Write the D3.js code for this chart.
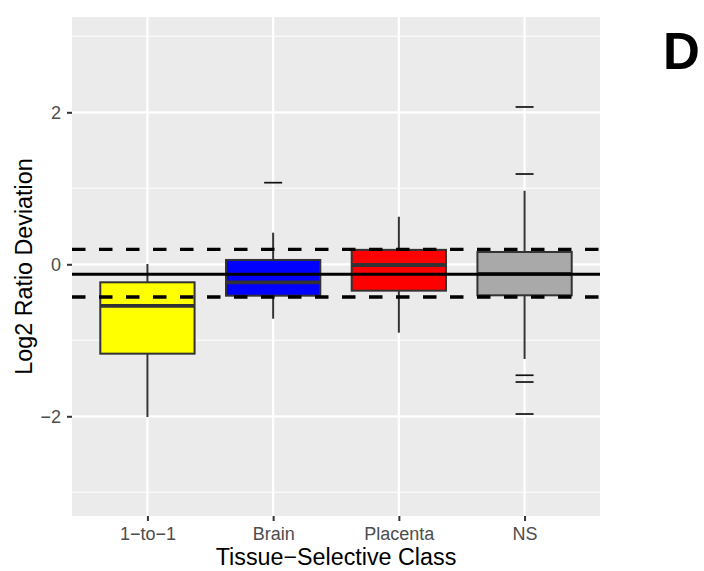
<!DOCTYPE html>
<html>
<head>
<meta charset="utf-8">
<script src="https://cdn.jsdelivr.net/npm/d3@7"></script>
<style>
  html, body { margin: 0; padding: 0; background: #fff; }
  svg { display: block; font-family: "Liberation Sans", Arial, Helvetica, sans-serif; }
</style>
</head>
<body>
<svg id="chart" width="704" height="571"></svg>
<script>
// Tissue-selective classes and their box-plot summaries (log2 ratio deviation)
const categories = ["1\u2212to\u22121", "Brain", "Placenta", "NS"];
const fills = ["#FFFF00", "#0000FF", "#FF0000", "#A9A9A9"];
const whiskerLow = [-2.01, -0.716, -0.90, -1.246];
const q1 = [-1.176, -0.413, -0.347, -0.408];
const median = [-0.546, -0.237, -0.009, -0.125];
const q3 = [-0.237, 0.057, 0.19, 0.162];
const whiskerHigh = [0.004, 0.416, 0.626, 0.968];
const outliers = [[], [1.074], [], [2.07, 1.188, -1.46, -1.549, -1.97]];

// Reference lines: overall median (solid) and band limits (dashed)
const refLine = -0.13;
const bandLines = [0.197, -0.43];

const yMajor = [-2, 0, 2];
const yMinor = [-3, -1, 1, 3];
const yDomain = [-3.312, 3.254];

const panel = { left: 72, right: 600, top: 17, bottom: 516 };
const svg = d3.select("#chart");

const x = d3.scalePoint().domain(categories).range([panel.left, panel.right]).padding(0.6);
const y = d3.scaleLinear().domain(yDomain).range([panel.bottom, panel.top]);
const boxW = x.step() * 0.75;

// panel background
svg.append("rect")
  .attr("x", panel.left).attr("y", panel.top)
  .attr("width", panel.right - panel.left).attr("height", panel.bottom - panel.top)
  .attr("fill", "#EBEBEB");

// grid
const grid = svg.append("g");
grid.selectAll(".minor").data(yMinor).join("line")
  .attr("x1", panel.left).attr("x2", panel.right)
  .attr("y1", d => y(d)).attr("y2", d => y(d))
  .attr("stroke", "#fff").attr("stroke-width", 1.1);
grid.selectAll(".majorY").data(yMajor).join("line")
  .attr("x1", panel.left).attr("x2", panel.right)
  .attr("y1", d => y(d)).attr("y2", d => y(d))
  .attr("stroke", "#fff").attr("stroke-width", 2.2);
grid.selectAll(".majorX").data(categories).join("line")
  .attr("x1", d => x(d)).attr("x2", d => x(d))
  .attr("y1", panel.top).attr("y2", panel.bottom)
  .attr("stroke", "#fff").attr("stroke-width", 2.2);

// boxes
const stats = categories.map((c, i) => ({
  c, fill: fills[i], lo: whiskerLow[i], q1: q1[i], med: median[i], q3: q3[i], hi: whiskerHigh[i], out: outliers[i]
}));
const boxes = svg.append("g").selectAll("g").data(stats).join("g");
const lineCol = "#333333";

boxes.append("line")
  .attr("x1", d => x(d.c)).attr("x2", d => x(d.c))
  .attr("y1", d => y(d.q3)).attr("y2", d => y(d.hi))
  .attr("stroke", lineCol).attr("stroke-width", 2);
boxes.append("line")
  .attr("x1", d => x(d.c)).attr("x2", d => x(d.c))
  .attr("y1", d => y(d.q1)).attr("y2", d => y(d.lo))
  .attr("stroke", lineCol).attr("stroke-width", 2);
boxes.append("rect")
  .attr("x", d => x(d.c) - boxW / 2).attr("width", boxW)
  .attr("y", d => y(d.q3)).attr("height", d => y(d.q1) - y(d.q3))
  .attr("fill", d => d.fill)
  .attr("stroke", lineCol).attr("stroke-width", 2);
boxes.append("line")
  .attr("x1", d => x(d.c) - boxW / 2).attr("x2", d => x(d.c) + boxW / 2)
  .attr("y1", d => y(d.med)).attr("y2", d => y(d.med))
  .attr("stroke", lineCol).attr("stroke-width", 3.8);
boxes.each(function (d) {
  d3.select(this).selectAll(".out").data(d.out).join("line")
    .attr("x1", x(d.c) - 9).attr("x2", x(d.c) + 9)
    .attr("y1", v => y(v)).attr("y2", v => y(v))
    .attr("stroke", "#111").attr("stroke-width", 1.7);
});

// reference lines
svg.append("line")
  .attr("x1", panel.left).attr("x2", panel.right)
  .attr("y1", y(refLine)).attr("y2", y(refLine))
  .attr("stroke", "#000").attr("stroke-width", 3);
svg.append("g").selectAll("line").data(bandLines).join("line")
  .attr("x1", panel.left).attr("x2", panel.right)
  .attr("y1", d => y(d)).attr("y2", d => y(d))
  .attr("stroke", "#000").attr("stroke-width", 3.3)
  .attr("stroke-dasharray", "13.5 13.5");

// axes
const yAxis = svg.append("g")
  .attr("transform", `translate(${panel.left},0)`)
  .call(d3.axisLeft(y).tickValues(yMajor).tickFormat(d3.format("d")).tickSize(5).tickPadding(6));
const xAxis = svg.append("g")
  .attr("transform", `translate(0,${panel.bottom})`)
  .call(d3.axisBottom(x).tickSize(5).tickPadding(6));
[yAxis, xAxis].forEach(a => {
  a.select(".domain").remove();
  a.selectAll(".tick line").attr("stroke", lineCol).attr("stroke-width", 2);
  a.selectAll(".tick text").attr("fill", "#4D4D4D").style("font-size", "18px")
    .style("font-family", "'Liberation Sans', Arial, Helvetica, sans-serif");
});

// axis titles
svg.append("text")
  .attr("x", (panel.left + panel.right) / 2).attr("y", 565)
  .attr("text-anchor", "middle").style("font-size", "23.3px").attr("fill", "#000")
  .text("Tissue\u2212Selective Class");
svg.append("text")
  .attr("transform", `translate(31.5,${(panel.top + panel.bottom) / 2}) rotate(-90)`)
  .attr("text-anchor", "middle").style("font-size", "23.3px").attr("fill", "#000")
  .text("Log2 Ratio Deviation");

// panel tag
svg.append("text")
  .attr("x", 663).attr("y", 69.3)
  .style("font-size", "51px").style("font-weight", "bold").attr("fill", "#000")
  .text("D");
</script>
</body>
</html>
